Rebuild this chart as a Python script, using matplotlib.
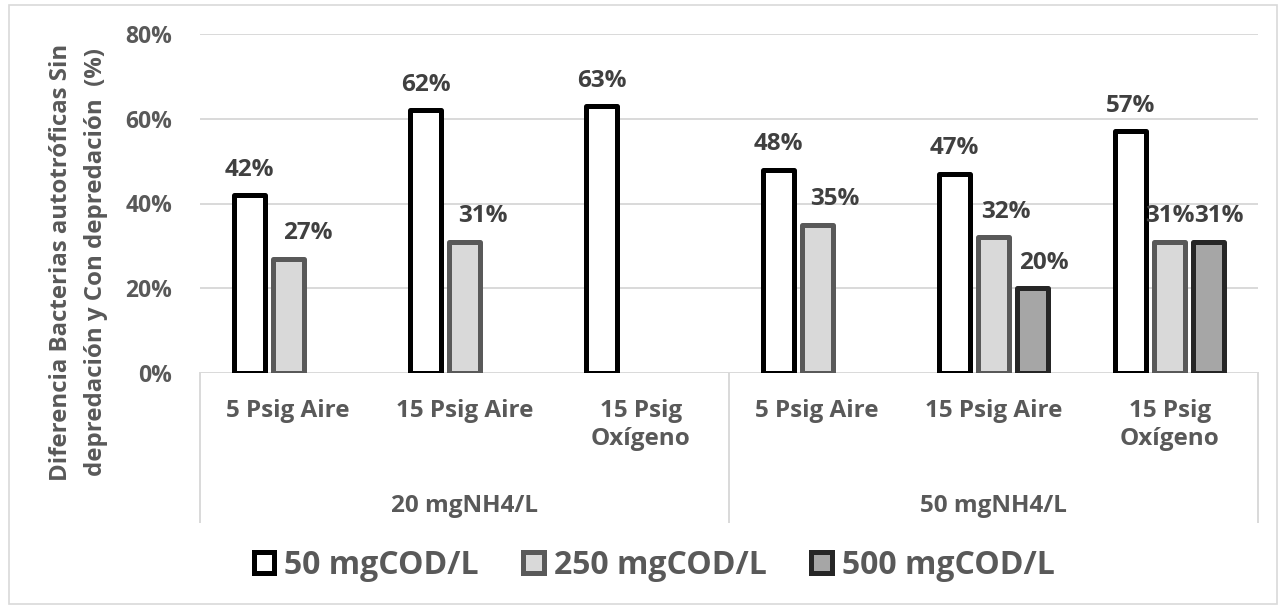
import numpy as np
import matplotlib as mpl
import matplotlib.pyplot as plt
from matplotlib.patches import Rectangle
from matplotlib.lines import Line2D

mpl.rcParams["font.family"] = ["Open Sans", "DejaVu Sans"]
mpl.rcParams["font.weight"] = "bold"

# datos: diferencia (%) por condición de aireación y carga orgánica
groups = ["20 mgNH4/L", "50 mgNH4/L"]
categories = ["5 Psig Aire", "15 Psig Aire", "15 Psig\nOxígeno",
              "5 Psig Aire", "15 Psig Aire", "15 Psig\nOxígeno"]
series = ["50 mgCOD/L", "250 mgCOD/L", "500 mgCOD/L"]
cod_50 = [42, 62, 63, 48, 47, 57]
cod_250 = [27, 31, np.nan, 35, 32, 31]
cod_500 = [np.nan, np.nan, np.nan, np.nan, 20, 31]
values = [cod_50, cod_250, cod_500]

# estilo de cada serie
faces = ["#FFFFFF", "#D9D9D9", "#A6A6A6"]
edges = ["#000000", "#595959", "#262626"]
# desplazamiento horizontal de las etiquetas (pt)
nudges = [[0, 0, 0, 0, 0, 0],
          [14, 13, 0, 13, 9, 0],
          [0, 0, 0, 0, 8, 7]]

TXT = "#595959"
LBL = "#404040"
GRID = "#D9D9D9"

W, H = 1286, 609
fig = plt.figure(figsize=(W / 100, H / 100), dpi=100)
ax = fig.add_axes([200 / W, 1 - 373 / H, 1058 / W, 339 / H])

x = np.arange(len(categories))
step, width = 0.221, 0.176
for k, (vals, fc, ec) in enumerate(zip(values, faces, edges)):
    xs = x + (k - 1) * step
    v = np.array(vals, dtype=float)
    ax.bar(xs, v / 100, width, color=fc, edgecolor=ec, linewidth=3.6,
           label=series[k], zorder=3, joinstyle="round")
    for xi, vi, dx in zip(xs, v, nudges[k]):
        if np.isnan(vi):
            continue
        ax.annotate(f"{vi:.0f}%", (xi, vi / 100), xytext=(dx, 14),
                    textcoords="offset points", ha="center", va="baseline",
                    fontsize=17.5, color=LBL, fontweight="bold", zorder=4)

ax.set_xlim(-0.5, len(categories) - 0.5)
ax.set_ylim(0, 0.8)
ax.set_yticks(np.arange(0, 0.81, 0.2))
ax.yaxis.set_major_formatter(mpl.ticker.PercentFormatter(1.0, decimals=0))
ax.tick_params(axis="y", length=0, pad=20, labelsize=16.5, labelcolor=TXT)
ax.set_xticks([])
ax.grid(axis="y", color=GRID, linewidth=1.4, zorder=0)
for s in ax.spines.values():
    s.set_visible(False)

# eje de categorías en dos niveles
for i, c in enumerate(categories):
    ax.annotate(c, (i, 0), xycoords=("data", "axes fraction"),
                xytext=(0, -18.5), textcoords="offset points",
                ha="center", va="top", fontsize=17.5, color=TXT,
                linespacing=1.25)
for g, name in enumerate(groups):
    ax.annotate(name, (3 * g + 1, 0), xycoords=("data", "axes fraction"),
                xytext=(0, -100), textcoords="offset points",
                ha="center", va="baseline", fontsize=17.5, color=TXT)
depth = (522 - 373) / 339
for xv in [-0.5, 2.5, 5.5]:
    ax.add_line(Line2D([xv, xv], [0, -depth], transform=ax.get_xaxis_transform(),
                       color=GRID, linewidth=1.4, clip_on=False))

fig.text(61 / W, 1 - 262 / H, "Diferencia Bacterias autotróficas Sin",
         rotation=90, ha="center", va="center", fontsize=17.3, color=TXT)
fig.text(96 / W, 1 - 262 / H, "depredación y Con depredación  (%)",
         rotation=90, ha="center", va="center", fontsize=17.3, color=TXT)

leg = fig.legend(loc="center", bbox_to_anchor=(654 / W, 1 - 565 / H), ncol=3,
                 frameon=False, fontsize=23, handlelength=0.65, handleheight=0.65,
                 handletextpad=0.3, columnspacing=1.4, labelcolor=TXT)

fig.patches.append(Rectangle((9 / W, 5 / H), 1 - 18 / W, 1 - 10 / H,
                             transform=fig.transFigure, fill=False,
                             edgecolor=GRID, linewidth=1.2))

fig.savefig("out.png", dpi=100)
